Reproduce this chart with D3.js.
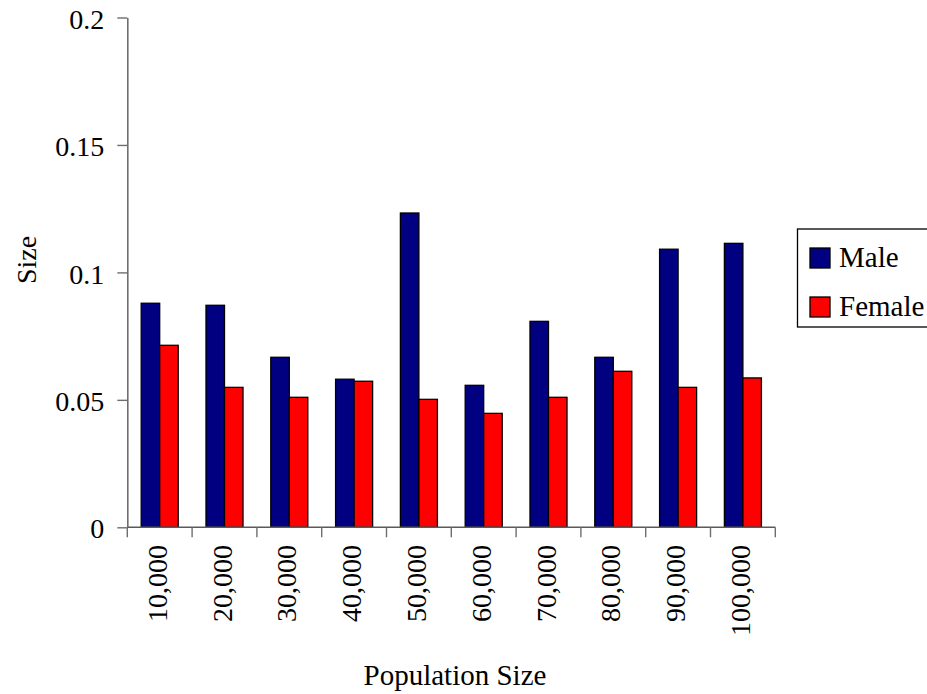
<!DOCTYPE html>
<html>
<head>
<meta charset="utf-8">
<script src="https://cdn.jsdelivr.net/npm/d3@7"></script>
<style>
  html, body { margin: 0; padding: 0; background: #fff; }
  svg { display: block; }
  text { font-family: "Liberation Serif", "Times New Roman", serif; fill: #000; }
</style>
</head>
<body>
<svg id="chart" width="927" height="694"></svg>
<script>
// Population sizes along the x axis
const categories = ["10,000", "20,000", "30,000", "40,000", "50,000",
                    "60,000", "70,000", "80,000", "90,000", "100,000"];
const series = ["Male", "Female"];
const maleValues   = [0.0879, 0.0871, 0.0667, 0.0581, 0.1233, 0.0557, 0.0808, 0.0667, 0.1091, 0.1114];
const femaleValues = [0.0714, 0.0549, 0.0510, 0.0573, 0.0502, 0.0447, 0.0510, 0.0612, 0.0549, 0.0586];
const yTickValues = [0, 0.05, 0.1, 0.15, 0.2];
const yTickLabels = ["0", "0.05", "0.1", "0.15", "0.2"];
const colors = { Male: "#000080", Female: "#ff0000" };

const rows = categories.map((c, i) => ({ cat: c, Male: maleValues[i], Female: femaleValues[i] }));

const svg = d3.select("#chart");
const plot = { left: 127.3, right: 775.3, top: 17.5, bottom: 527.3 };

const x = d3.scaleBand().domain(categories).range([plot.left, plot.right]).paddingInner(0).paddingOuter(0);
const xs = d3.scaleBand().domain(series).range([0, x.bandwidth()]).paddingInner(0).paddingOuter(0.75);
const y = d3.scaleLinear().domain([0, 0.2]).range([plot.bottom, plot.top]);

// Bars
const groups = svg.append("g").selectAll("g").data(rows).join("g")
  .attr("transform", d => `translate(${x(d.cat)},0)`);
groups.selectAll("rect").data(d => series.map(s => ({ s, v: d[s] }))).join("rect")
  .attr("x", d => xs(d.s))
  .attr("width", xs.bandwidth())
  .attr("y", d => y(d.v))
  .attr("height", d => y(0) - y(d.v))
  .attr("fill", d => colors[d.s])
  .attr("stroke", "#000")
  .attr("stroke-width", 1.3);

// Y axis
const yAxis = d3.axisLeft(y).tickValues(yTickValues)
  .tickFormat((d, i) => yTickLabels[i]).tickSize(10).tickPadding(13).tickSizeOuter(0);
const gy = svg.append("g").attr("transform", `translate(${plot.left},0)`).call(yAxis);
gy.select(".domain").attr("stroke", "#6e6e6e").attr("stroke-width", 1.6);
gy.selectAll(".tick line").attr("stroke", "#6e6e6e").attr("stroke-width", 1.4);
gy.selectAll(".tick text").attr("font-size", 28).attr("dy", "0.38em")
  .style("font-family", "'Liberation Serif', 'Times New Roman', serif");

// X axis: ticks sit on category boundaries
const gx = svg.append("g").attr("transform", `translate(0,${plot.bottom})`);
gx.append("line").attr("x1", plot.left).attr("x2", plot.right)
  .attr("stroke", "#5a5a5a").attr("stroke-width", 1.6);
const boundaries = categories.map(c => x(c)).concat([plot.right]);
gx.selectAll("line.tk").data(boundaries).join("line").attr("class", "tk")
  .attr("x1", d => d).attr("x2", d => d).attr("y1", 0).attr("y2", 10)
  .attr("stroke", "#6e6e6e").attr("stroke-width", 1.4);
gx.selectAll("text").data(categories).join("text")
  .attr("transform", d => `translate(${x(d) + x.bandwidth() / 2},${545 - plot.bottom}) rotate(-90)`)
  .attr("text-anchor", "end")
  .attr("dy", "0.25em")
  .attr("font-size", 28)
  .text(d => d);

// Axis titles
svg.append("text").attr("x", 455).attr("y", 685).attr("text-anchor", "middle")
  .attr("font-size", 29).text("Population Size");
svg.append("text").attr("transform", "translate(36,260) rotate(-90)")
  .attr("text-anchor", "middle").attr("font-size", 28).text("Size");

// Legend
const lg = svg.append("g");
lg.append("rect").attr("x", 797.5).attr("y", 229).attr("width", 160).attr("height", 98)
  .attr("fill", "#fff").attr("stroke", "#000").attr("stroke-width", 1.3);
series.forEach((s, i) => {
  const yy = 248 + i * 49;
  lg.append("rect").attr("x", 810).attr("y", yy).attr("width", 20).attr("height", 20)
    .attr("fill", colors[s]).attr("stroke", "#000").attr("stroke-width", 1.3);
  lg.append("text").attr("x", 839).attr("y", yy + 19).attr("font-size", 29).text(s);
});
</script>
</body>
</html>
